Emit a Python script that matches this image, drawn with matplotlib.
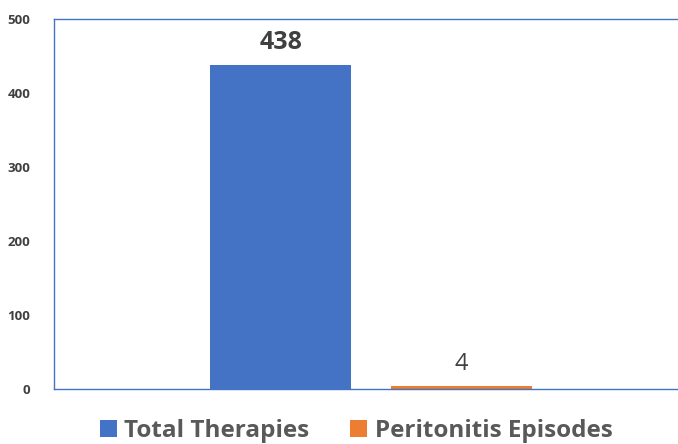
import matplotlib
matplotlib.use("Agg")
import matplotlib.pyplot as plt
from matplotlib.patches import Patch

series = ["Total Therapies", "Peritonitis Episodes"]
values = [438, 4]
colors = ["#4472C4", "#ED7D31"]
yticks = [0, 100, 200, 300, 400, 500]

plt.rcParams['font.family'] = ['Open Sans', 'DejaVu Sans']

fig = plt.figure(figsize=(6.78, 4.44), dpi=100)
ax = fig.add_axes([54/678, 55/444, 1 - 54/678, 370/444])

pos = [0, 1]
bars = ax.bar(pos, values, width=0.78, color=colors, zorder=2)
ax.set_xlim(-1.255, 2.2)
ax.set_ylim(0, 500)
ax.set_yticks(yticks)
ax.set_yticklabels([str(t) for t in yticks], fontsize=9.5, fontweight='bold', color='#404040')
ax.tick_params(axis='y', length=0, pad=17)
ax.set_xticks([])

for s in ['left', 'top', 'bottom']:
    ax.spines[s].set_color('#4472C4')
    ax.spines[s].set_linewidth(1.0)
ax.spines['right'].set_visible(False)

ax.text(pos[0], values[0] + 13, str(values[0]), ha='center', va='bottom',
        fontsize=18, fontweight='bold', color='#404040')
ax.text(pos[1], values[1] + 13, str(values[1]), ha='center', va='bottom',
        fontsize=17, color='#404040')

handles = [Patch(facecolor=c, edgecolor='none') for c in colors]
fig.legend(handles, series, loc='center', bbox_to_anchor=(356/678, 1 - 431/444),
           ncol=2, frameon=False, prop={'size': 17.5, 'weight': 'bold'},
           labelcolor='#595959', handlelength=0.7, handleheight=0.7,
           handletextpad=0.3, columnspacing=1.7, borderpad=0, borderaxespad=0)

fig.savefig("out.png", dpi=100)
